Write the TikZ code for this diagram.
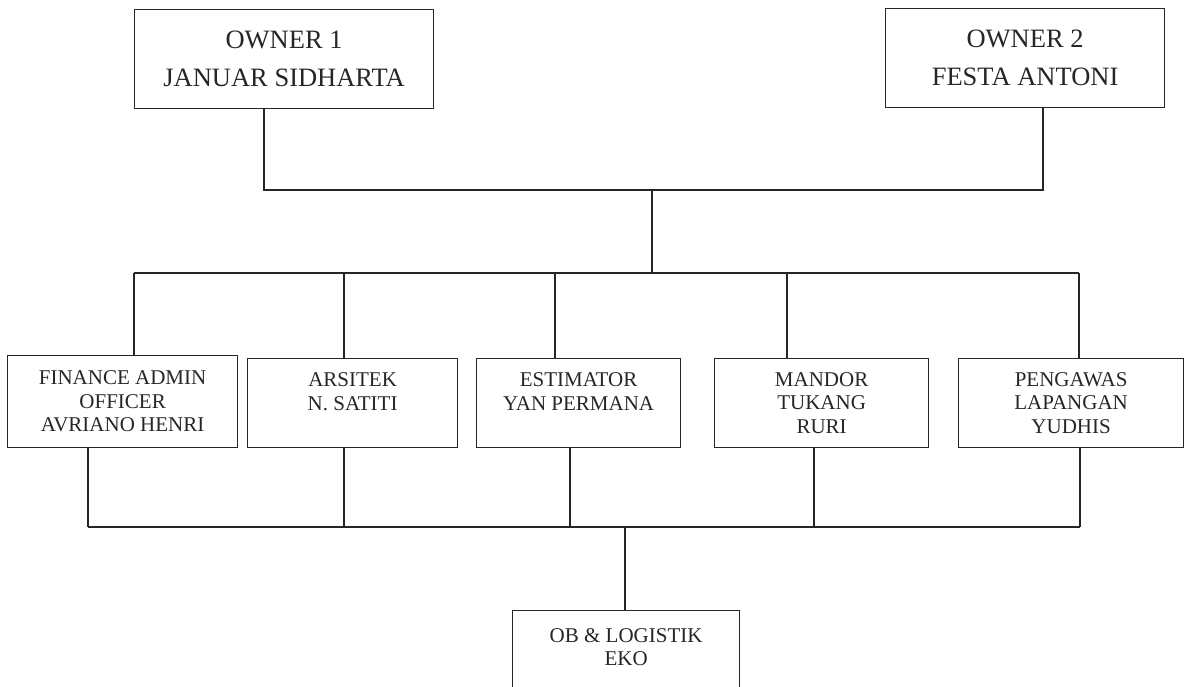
\documentclass[tikz,border=0pt]{standalone}
\usepackage{fontspec}
\setmainfont{Liberation Serif}
\usetikzlibrary{positioning}

\tikzset{
  ownbox/.style={draw=black!85, line width=1.2pt, anchor=north west, minimum height=99pt,
    align=center, inner sep=0pt, text=black!85, font=\fontsize{26.5}{38}\selectfont},
  staffbox/.style={draw=black!85, line width=1.2pt, anchor=north west, minimum height=89pt,
    align=center, inner sep=0pt, text=black!85, font=\fontsize{21}{23.5}\selectfont},
  link/.style={draw=black!85, line width=1.3pt}
}

\begin{document}
\begin{tikzpicture}[x=1pt, y=-1pt]
    \useasboundingbox (0,0) rectangle (1184,686);
    \clip (0,0) rectangle (1184,686);
    % Owners
    \node[ownbox, minimum width=299pt] (own1) at (134,9) {OWNER 1\\JANUAR SIDHARTA};
    \node[ownbox, minimum width=279pt] (own2) at (885,8) {OWNER 2\\FESTA ANTONI};
    % Staff
    \node[staffbox, minimum width=230pt, minimum height=92pt] (fin) at (7,355) {FINANCE ADMIN\\OFFICER\\AVRIANO HENRI};
    \node[staffbox, minimum width=210pt] (ars) at (247,358) {ARSITEK\\N. SATITI\\\mbox{}};
    \node[staffbox, minimum width=204pt] (est) at (476,358) {ESTIMATOR\\YAN PERMANA\\\mbox{}};
    \node[staffbox, minimum width=214pt] (man) at (714,358) {MANDOR\\TUKANG\\RURI};
    \node[staffbox, minimum width=225pt] (pen) at (958,358) {PENGAWAS\\LAPANGAN\\YUDHIS};
    \node[staffbox, minimum width=227pt, minimum height=96pt] (ob) at (512,610) {OB \& LOGISTIK\\EKO\\\mbox{}};
    % Junctions
    \coordinate (tl) at (264,190);
    \coordinate (tr) at (1043,190);
    \coordinate (tm) at (652,190);
    \coordinate (bm) at (652,273);
    \coordinate (a1) at (134,273);
    \coordinate (a2) at (344,273);
    \coordinate (a3) at (555,273);
    \coordinate (a4) at (787,273);
    \coordinate (a5) at (1079,273);
    \coordinate (b1) at (88,527);
    \coordinate (b2) at (344,527);
    \coordinate (b3) at (570,527);
    \coordinate (b4) at (814,527);
    \coordinate (b5) at (1080,527);
    \coordinate (bo) at (625,527);
    % Owner lines
    \draw[link] (own1.south -| tl) -- (tl) -- (tr) -- (own2.south -| tr);
    \draw[link] (tm) -- (bm);
    % Staff lines
    \draw[link] (a1) -- (a5);
    \foreach \n/\i in {fin/1, ars/2, est/3, man/4, pen/5} {
        \draw[link] (a\i) -- (\n.north -| a\i);
        \draw[link] (\n.south -| b\i) -- (b\i);
    }
    \draw[link] (b1) -- (b5);
    \draw[link] (bo) -- (ob.north -| bo);
\end{tikzpicture}
\end{document}
